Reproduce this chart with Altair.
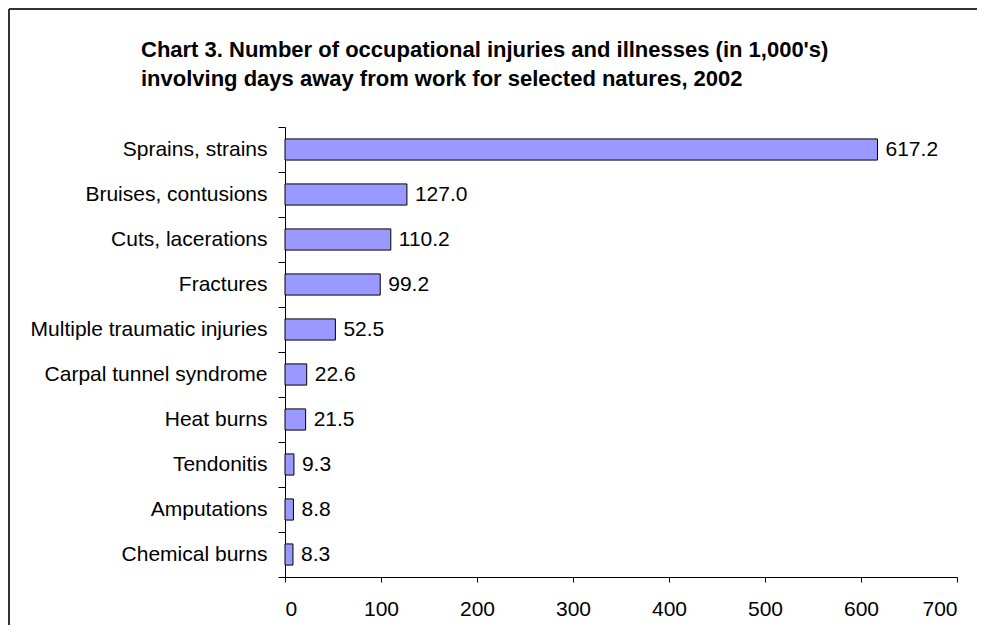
import altair as alt
import pandas as pd

categories = [
    "Sprains, strains",
    "Bruises, contusions",
    "Cuts, lacerations",
    "Fractures",
    "Multiple traumatic injuries",
    "Carpal tunnel syndrome",
    "Heat burns",
    "Tendonitis",
    "Amputations",
    "Chemical burns",
]
values = [617.2, 127.0, 110.2, 99.2, 52.5, 22.6, 21.5, 9.3, 8.8, 8.3]
x_ticks = [0, 100, 200, 300, 400, 500, 600, 700]
title_lines = [
    "Chart 3. Number of occupational injuries and illnesses (in 1,000's)",
    "involving days away from work for selected natures, 2002",
]

df = pd.DataFrame({
    "nature": categories,
    "count": values,
    "label": [f"{v:.1f}" for v in values],
})

W, H = 672, 450
FONT = "Liberation Sans"

y_scale = alt.Scale(paddingInner=0, paddingOuter=0)
y_enc = alt.Y(
    "nature:N",
    sort=categories,
    scale=y_scale,
    axis=alt.Axis(
        title=None,
        tickBand="extent",
        tickSize=7,
        tickColor="black",
        domainColor="black",
        labelFont=FONT,
        labelFontSize=21,
        labelColor="black",
        labelPadding=11,
        labelLimit=400,
        grid=False,
    ),
)
x_enc = alt.X(
    "count:Q",
    scale=alt.Scale(domain=[0, 700], nice=False),
    axis=alt.Axis(
        title=None,
        values=x_ticks,
        tickSize=5,
        tickColor="black",
        domainColor="black",
        labelFont=FONT,
        labelFontSize=21,
        labelColor="black",
        labelPadding=16,
        grid=False,
    ),
)

base = alt.Chart(df)
bars = base.mark_bar(
    fill="#9999FF", stroke="black", strokeWidth=1, height={"band": 0.47}
).encode(x=x_enc, y=y_enc)
texts = base.mark_text(
    align="left", baseline="middle", dx=8, font=FONT, fontSize=21, color="black"
).encode(x="count:Q", y=alt.Y("nature:N", sort=categories), text="label:N")

frame_df = pd.DataFrame({"k": [0]})
border_top = alt.Chart(frame_df).mark_rule(stroke="#333333", strokeWidth=2).encode(
    x=alt.value(-276), x2=alt.value(W + 60), y=alt.value(-118)
)
border_left = alt.Chart(frame_df).mark_rule(stroke="#333333", strokeWidth=2).encode(
    x=alt.value(-276), y=alt.value(-118), y2=alt.value(H + 60)
)

title_df = pd.DataFrame({"t": [title_lines[0]]})
title_df2 = pd.DataFrame({"t": [title_lines[1]]})
title1 = alt.Chart(title_df).mark_text(
    align="left", baseline="alphabetic", font=FONT, fontSize=22, fontWeight="bold", color="black"
).encode(x=alt.value(-144), y=alt.value(-70), text="t:N")
title2 = alt.Chart(title_df2).mark_text(
    align="left", baseline="alphabetic", font=FONT, fontSize=22, fontWeight="bold", color="black"
).encode(x=alt.value(-144), y=alt.value(-41), text="t:N")

chart = alt.layer(bars, texts, border_top, border_left, title1, title2).properties(
    width=W,
    height=H,
    background="white",
    autosize=alt.AutoSizeParams(type="none"),
    padding={"left": 277, "top": 119, "right": 20, "bottom": 48},
).configure_view(stroke="transparent")

chart.save("out.html", embed_options={"renderer": "svg", "actions": False})
